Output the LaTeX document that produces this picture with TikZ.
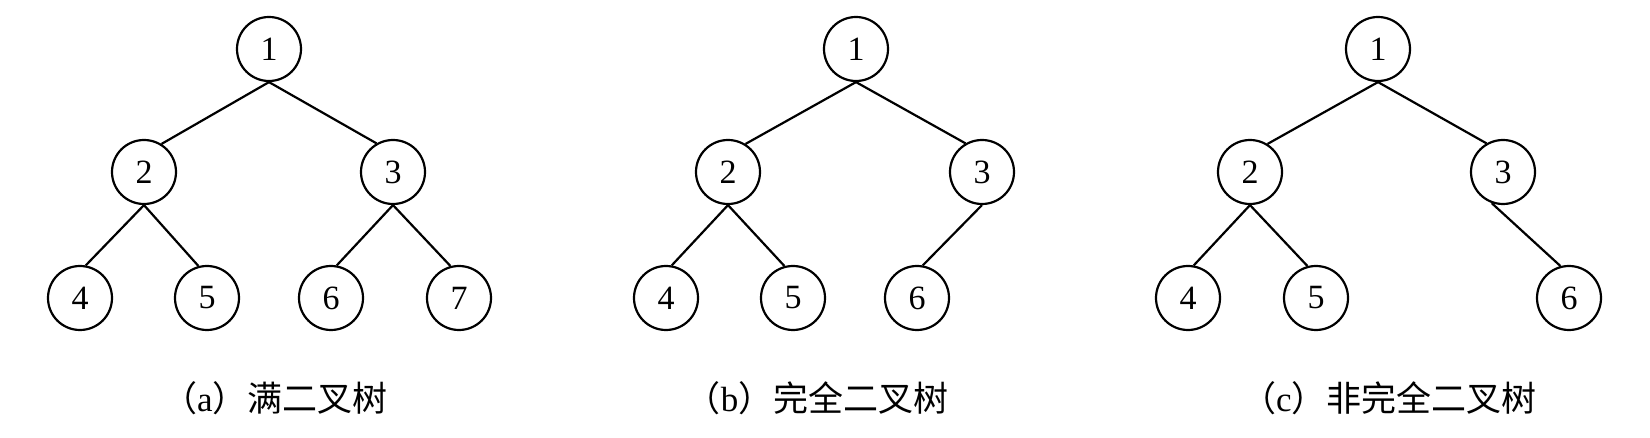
\documentclass[tikz,border=0pt]{standalone}
\usepackage{fontspec}
\setmainfont{Liberation Serif}
\newfontfamily\cjk{Noto Sans CJK SC}

\begin{document}
\begin{tikzpicture}[x=0.5pt,y=-0.5pt,
        tnode/.style={circle,draw,line width=1.1pt,inner sep=0pt,minimum size=32pt,font=\fontsize{17}{20}\selectfont},
        tedge/.style={line width=1.1pt},
        capt/.style={font=\fontsize{17.5}{20}\selectfont}]
        \useasboundingbox (0,0) rectangle (1650,438);

        % (a) full binary tree
        \node[tnode] (a1) at (269,49) {1};
        \node[tnode] (a2) at (144,172) {2};
        \node[tnode] (a3) at (393,172) {3};
        \node[tnode] (a4) at (80,298) {4};
        \node[tnode] (a5) at (207,298) {5};
        \node[tnode] (a6) at (331,298) {6};
        \node[tnode] (a7) at (459,298) {7};
        \draw[tedge] (a2.58) -- (a1.south) -- (a3.120);
        \foreach \p/\l/\r in {a2/a4/a5,a3/a6/a7} {
            \draw[tedge] (\l.80) -- (\p.south) -- (\r.105);
        }
        \node[capt] (capa) at (275,398) {{\cjk （}a{\cjk ）满二叉树}};

        % (b) complete binary tree
        \node[tnode] (b1) at (856,49) {1};
        \node[tnode] (b2) at (728,172) {2};
        \node[tnode] (b3) at (982,172) {3};
        \node[tnode] (b4) at (666,298) {4};
        \node[tnode] (b5) at (793,298) {5};
        \node[tnode] (b6) at (917,298) {6};
        \draw[tedge] (b2.58) -- (b1.south) -- (b3.120);
        \draw[tedge] (b4.80) -- (b2.south) -- (b5.105);
        \draw[tedge] (b3.south) -- (b6.80);
        \node[capt] (capb) at (817,398) {{\cjk （}b{\cjk ）完全二叉树}};

        % (c) non-complete binary tree
        \node[tnode] (c1) at (1378,49) {1};
        \node[tnode] (c2) at (1250,172) {2};
        \node[tnode] (c3) at (1503,172) {3};
        \node[tnode] (c4) at (1188,298) {4};
        \node[tnode] (c5) at (1316,298) {5};
        \node[tnode] (c6) at (1569,298) {6};
        \draw[tedge] (c2.58) -- (c1.south) -- (c3.120);
        \draw[tedge] (c4.80) -- (c2.south) -- (c5.105);
        \draw[tedge] (c3.-110) -- (c6.105);
        \node[capt] (capc) at (1389,398) {{\cjk （}c{\cjk ）非完全二叉树}};
    \end{tikzpicture}
\end{document}
